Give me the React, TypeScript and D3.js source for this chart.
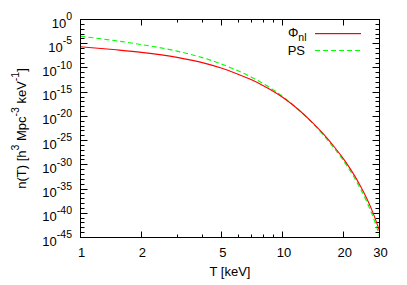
import React from "react";
import * as d3 from "d3";

const temperatures = [1, 1.5, 2, 3, 4, 5, 6, 7, 8, 9, 10, 12, 14, 16, 18, 20, 22, 24, 26, 28, 30];
const phiNl = [2.29e-6, 5.5e-7, 1.66e-7, 1.55e-8, 1.26e-9, 8.3e-11, 5.2e-12, 3.5e-13, 2.2e-14, 1.38e-15, 7.9e-17, 2.1e-19, 5.2e-22, 1.45e-24, 4.2e-27, 1.32e-29, 3.5e-32, 7.1e-35, 1.0e-37, 7.6e-41, 2.3e-44];
const pressSchechter = [3.55e-4, 4.0e-5, 6.8e-6, 2.95e-7, 1.35e-8, 5.75e-10, 2.5e-11, 1.2e-12, 5.5e-14, 2.6e-15, 1.12e-16, 2.0e-19, 4.0e-22, 8.9e-25, 2.1e-27, 5.5e-30, 1.2e-32, 1.86e-35, 2.0e-38, 1.12e-41, 2.3e-45];
const xMajorTicks = [1, 2, 5, 10, 20, 30];
const xMinorTicks = [3, 4, 6, 7, 8, 9];
const yMajorExponents = [0, -5, -10, -15, -20, -25, -30, -35, -40, -45];
const seriesNames = ["nl", "PS"];
const seriesColors = ["#ff0000", "#00ff00"];

const W = 407, H = 285;
const L = 80.5, R = 379.5, T = 19.5, B = 237.5;
const FONT = "'Liberation Sans', Arial, Helvetica, sans-serif";

export default function App() {
  const x = d3.scaleLog().domain([1, 30]).range([L, R]);
  const y = d3.scaleLog().domain([1e-45, 1]).range([B, T]);
  const line = d3
    .line<[number, number]>()
    .x((d) => x(d[0]))
    .y((d) => y(d[1]))
    .curve(d3.curveMonotoneX);
  const redPath = line(temperatures.map((t, i) => [t, phiNl[i]] as [number, number])) || "";
  const greenPath = line(temperatures.map((t, i) => [t, pressSchechter[i]] as [number, number])) || "";
  const yMinor = d3.range(0, 46).map((k) => -k).filter((k) => k % 5 !== 0);
  const px = (v: number) => Math.round(v - 0.5) + 0.5;

  return (
    <svg width={W} height={H} style={{ position: "absolute", left: 0, top: 0 }} fontFamily={FONT}>
      <rect x={0} y={0} width={W} height={H} fill="white" />
      <defs>
        <clipPath id="plot">
          <rect x={L} y={T} width={R - L} height={B - T} />
        </clipPath>
      </defs>
      {/* ticks */}
      <g stroke="black" strokeWidth={1}>
        {xMajorTicks.map((t) => (
          <g key={"xM" + t}>
            <line x1={px(x(t))} x2={px(x(t))} y1={B} y2={B - 6} />
            <line x1={px(x(t))} x2={px(x(t))} y1={T} y2={T + 6} />
          </g>
        ))}
        {xMinorTicks.map((t) => (
          <g key={"xm" + t}>
            <line x1={px(x(t))} x2={px(x(t))} y1={B} y2={B - 3} />
            <line x1={px(x(t))} x2={px(x(t))} y1={T} y2={T + 3} />
          </g>
        ))}
        {yMajorExponents.map((e) => (
          <g key={"yM" + e}>
            <line x1={L} x2={L + 7} y1={px(y(Math.pow(10, e)))} y2={px(y(Math.pow(10, e)))} />
            <line x1={R} x2={R - 7} y1={px(y(Math.pow(10, e)))} y2={px(y(Math.pow(10, e)))} />
          </g>
        ))}
        {yMinor.map((e) => (
          <g key={"ym" + e}>
            <line x1={L} x2={L + 4} y1={px(y(Math.pow(10, e)))} y2={px(y(Math.pow(10, e)))} />
            <line x1={R} x2={R - 4} y1={px(y(Math.pow(10, e)))} y2={px(y(Math.pow(10, e)))} />
          </g>
        ))}
      </g>
      {/* curves */}
      <g clipPath="url(#plot)" fill="none">
        <path d={greenPath} stroke={seriesColors[1]} strokeWidth={1.1} strokeDasharray="5,3" />
        <path d={redPath} stroke={seriesColors[0]} strokeWidth={1.1} />
      </g>
      {/* frame */}
      <rect x={L} y={T} width={R - L} height={B - T} fill="none" stroke="black" strokeWidth={1} />
      {/* x tick labels */}
      <g fontSize={13} textAnchor="middle" fill="black">
        {xMajorTicks.map((t) => (
          <text key={"xl" + t} x={x(t) + 1} y={256.5}>
            {t}
          </text>
        ))}
      </g>
      {/* y tick labels */}
      <g fontSize={13} textAnchor="end" fill="black">
        {yMajorExponents.map((e) => {
          const yy = y(Math.pow(10, e));
          return (
            <text key={"yl" + e} x={72} y={yy + 8}>
              10
              <tspan fontSize={10.5} dy={-7.3}>{String(e)}</tspan>
            </text>
          );
        })}
      </g>
      {/* axis titles */}
      <text x={(L + R) / 2} y={276} fontSize={13} textAnchor="middle">T [keV]</text>
      <text transform={`translate(25.5,${(T + B) / 2}) rotate(-90)`} fontSize={13} textAnchor="middle">
        n(T) [h<tspan fontSize={10.5} dy={-7}>3</tspan>
        <tspan dy={7}> Mpc</tspan>
        <tspan fontSize={10.5} dy={-7}>-3</tspan>
        <tspan dy={7}> keV</tspan>
        <tspan fontSize={10.5} dy={-7}>-1</tspan>
        <tspan dy={7}>]</tspan>
      </text>
      {/* legend */}
      <text x={306.5} y={37} fontSize={13} textAnchor="end">
        Φ<tspan fontSize={10.5} dy={4}>{seriesNames[0]}</tspan>
      </text>
      <rect x={315} y={33} width={46} height={1.2} fill={seriesColors[0]} />
      <text x={305} y={55} fontSize={13} textAnchor="end">{seriesNames[1]}</text>
      <path d="M315,50.5H361" stroke={seriesColors[1]} strokeWidth={1.1} strokeDasharray="5,3" fill="none" />
    </svg>
  );
}
